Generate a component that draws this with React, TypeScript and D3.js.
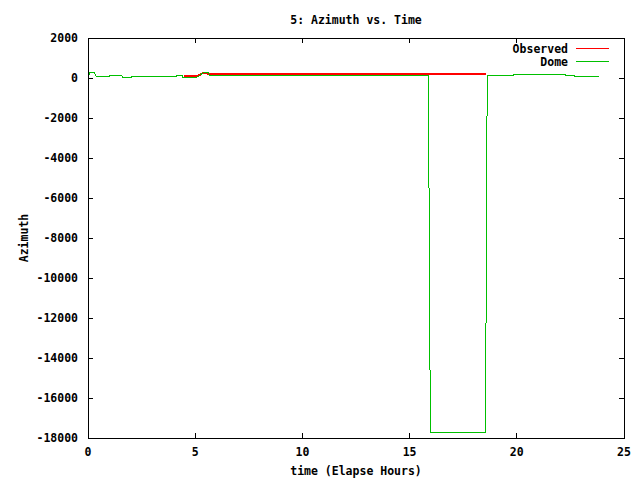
import React from "react";
import * as d3 from "d3";

const W = 640;
const H = 480;
const M = { left: 88, right: 16, top: 38, bottom: 42 };

const xTicks = [0, 5, 10, 15, 20, 25];
const yTicks = [2000, 0, -2000, -4000, -6000, -8000, -10000, -12000, -14000, -16000, -18000];

const observedTime = [4.48, 5.0, 5.1, 5.35, 5.55, 5.62, 10.0, 15.0, 18.56];
const observedAz = [80, 80, 80, 250, 250, 200, 200, 200, 200];

const domeTime = [
  0.0, 0.09, 0.28, 0.37, 1.0, 1.03, 1.57, 1.6, 2.04, 2.07, 4.14, 4.17, 4.37, 4.42,
  5.1, 5.39, 5.62, 5.67, 15.88, 15.9, 15.94, 15.98, 18.53, 18.56, 18.6, 18.62,
  19.84, 19.87, 21.75, 21.78, 21.85, 22.25, 22.28, 22.68, 22.71, 23.85,
];
const domeAz = [
  0, 300, 300, 100, 100, 150, 150, 50, 50, 100, 100, 150, 150, 50,
  50, 280, 280, 150, 150, -4350, -13230, -17700, -17700, -13230, -4350, 150,
  150, 200, 200, 170, 200, 200, 130, 130, 80, 80,
];

const title = "5: Azimuth vs. Time";
const xLabel = "time (Elapse Hours)";
const yLabel = "Azimuth";
const seriesNames = ["Observed", "Dome"];
const seriesColors = ["#ff0000", "#00c000"];

const FONT = "'DejaVu Sans Mono', monospace";

export default function App() {
  const x = d3.scaleLinear().domain([0, 25]).range([M.left, W - M.right]);
  const y = d3.scaleLinear().domain([-18000, 2000]).range([H - M.bottom, M.top]);
  const line = d3
    .line<[number, number]>()
    .x((d) => x(d[0]))
    .y((d) => y(d[1]));

  const obs = observedTime.map((t, i) => [t, observedAz[i]] as [number, number]);
  const dome = domeTime.map((t, i) => [t, domeAz[i]] as [number, number]);

  const x0 = x(0), x1 = x(25), y0 = y(-18000), y1 = y(2000);
  const tl = 5;

  return (
    <svg
      width={W}
      height={H}
      style={{ position: "absolute", left: 0, top: 0, background: "#fff" }}
      fontFamily={FONT}
      fontWeight="bold"
      fontSize={11.5}
    >
      <rect x={0} y={0} width={W} height={H} fill="#fff" />
      <text x={(x0 + x1) / 2} y={20} textAnchor="middle" dominantBaseline="central">
        {title}
      </text>
      <g shapeRendering="crispEdges">
        {xTicks.map((t) => (
          <g key={"xt" + t}>
            <line x1={x(t)} x2={x(t)} y1={y0} y2={y0 - tl} stroke="#000" />
            <line x1={x(t)} x2={x(t)} y1={y1} y2={y1 + tl} stroke="#000" />
          </g>
        ))}
        {yTicks.map((v) => (
          <g key={"yt" + v}>
            <line x1={x0} x2={x0 + tl} y1={y(v)} y2={y(v)} stroke="#000" />
            <line x1={x1} x2={x1 - tl} y1={y(v)} y2={y(v)} stroke="#000" />
          </g>
        ))}
      </g>
      {xTicks.map((t) => (
        <text key={"xl" + t} x={x(t)} y={452} textAnchor="middle" dominantBaseline="central">
          {t}
        </text>
      ))}
      {yTicks.map((v) => (
        <text key={"yl" + v} x={78} y={y(v)} textAnchor="end" dominantBaseline="central">
          {v}
        </text>
      ))}
      <text x={(x0 + x1) / 2} y={471} textAnchor="middle" dominantBaseline="central">
        {xLabel}
      </text>
      <text
        transform={`translate(24,${(y0 + y1) / 2}) rotate(-90)`}
        textAnchor="middle"
        dominantBaseline="central"
      >
        {yLabel}
      </text>
      {/* data */}
      <g shapeRendering="crispEdges">
        <path d={line(obs) || ""} fill="none" stroke={seriesColors[0]} strokeWidth={2} />
        <path d={line(dome) || ""} fill="none" stroke={seriesColors[1]} strokeWidth={1} />
        {seriesNames.map((n, i) => (
          <line
            key={n}
            x1={576}
            x2={609}
            y1={48.5 + i * 13}
            y2={48.5 + i * 13}
            stroke={seriesColors[i]}
            strokeWidth={1}
          />
        ))}
        <rect x={x0} y={y1} width={x1 - x0} height={y0 - y1} fill="none" stroke="#000" strokeWidth={1} />
      </g>
      {seriesNames.map((n, i) => (
        <text key={"lg" + n} x={568} y={49 + i * 13} textAnchor="end" dominantBaseline="central">
          {n}
        </text>
      ))}
    </svg>
  );
}
